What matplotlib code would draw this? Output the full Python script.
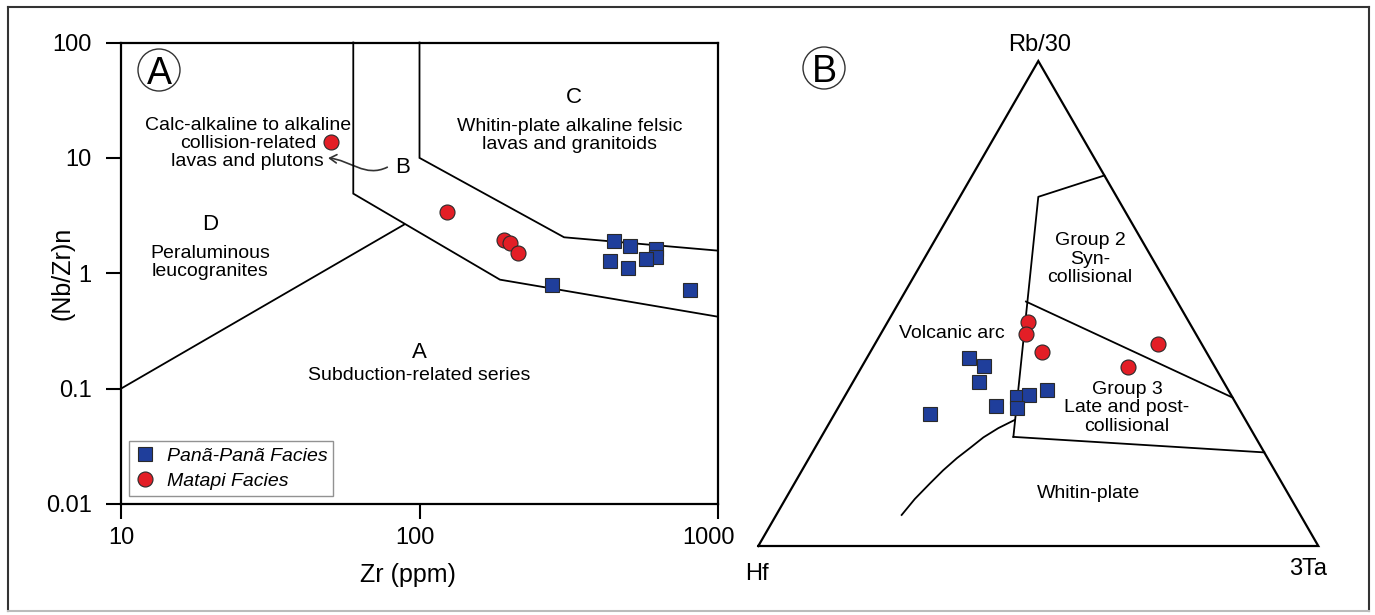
import numpy as np
import matplotlib
matplotlib.use('Agg')
import matplotlib.pyplot as plt
import matplotlib.transforms as mtransforms
from matplotlib.patches import Circle, FancyArrowPatch
from matplotlib.path import Path
from matplotlib.lines import Line2D

plt.rcParams['font.family'] = ['Liberation Sans', 'DejaVu Sans']

# --- Zr vs (Nb/Zr)n diagram ---
pana_zr = [448, 507, 620, 620, 574, 435, 499, 278, 806]
pana_nbzr = [1.90, 1.72, 1.62, 1.38, 1.33, 1.28, 1.11, 0.79, 0.715]
matapi_zr = [50.5, 124, 192, 201, 214]
matapi_nbzr = [13.7, 3.39, 1.94, 1.83, 1.50]

# field boundaries
bnd_b_lower_zr = [60, 60, 186, 1000]
bnd_b_lower_nb = [100, 4.9, 0.88, 0.42]
bnd_bc_zr = [100, 100, 305, 1000]
bnd_bc_nb = [100, 10, 2.05, 1.57]
bnd_da_zr = [10, 89]
bnd_da_nb = [0.1, 2.65]

# --- Rb/30 - Hf - 3Ta ternary (percent: Hf, Rb/30, 3Ta) ---
pana_hf = [43.0, 41.1, 43.7, 38.5, 36.2, 43.1, 39.5, 55.7, 32.3]
pana_rb = [38.8, 37.2, 33.9, 30.7, 31.1, 28.9, 28.5, 27.2, 32.2]
pana_ta = [18.2, 21.7, 22.4, 30.8, 32.7, 28.0, 32.0, 17.1, 35.5]
matapi_hf = [28.8, 30.4, 29.3, 7.7, 15.4]
matapi_rb = [46.2, 43.7, 40.1, 41.7, 37.0]
matapi_ta = [25.0, 25.9, 30.6, 50.6, 47.6]

syncol_hf = [0.0, 14.0, 43.2]
syncol_rb = [76.4, 72.0, 22.5]
syncol_ta = [23.6, 14.0, 34.3]
grp23_hf = [27.0, 0.0]
grp23_rb = [50.4, 30.6]
grp23_ta = [22.6, 69.4]
grp3_hf = [43.2, 0.0]
grp3_rb = [22.5, 19.3]
grp3_ta = [34.3, 80.7]
wpg_hf = [71.2, 67.2, 62.9, 59.2, 55.5, 52.1, 48.6, 45.0, 41.2]
wpg_rb = [6.4, 9.7, 12.9, 15.6, 18.1, 20.2, 22.4, 24.3, 26.0]
wpg_ta = [22.4, 23.1, 24.2, 25.2, 26.4, 27.7, 29.0, 30.7, 32.8]

BLUE = '#1f3e9b'
RED = '#e31e26'
EDGE = '#2a2a2a'


def tern(hf, rb, ta):
    hf, rb, ta = (np.asarray(v, dtype=float) for v in (hf, rb, ta))
    s = hf + rb + ta
    rb, ta = rb / s, ta / s
    return ta + rb / 2, rb * np.sqrt(3) / 2


W, H = 1375, 615
fig = plt.figure(figsize=(W / 100, H / 100), dpi=100)

# outer frame
for xs, ys, c in [((8, 1369), (7, 7), '#333333'), ((8, 8), (7, 611), '#333333'),
                  ((1369, 1369), (7, 611), '#333333'), ((8, 1369), (611, 611), '#bbbbbb')]:
    fig.add_artist(Line2D([x / W for x in xs], [1 - y / H for y in ys],
                          color=c, lw=1.5, transform=fig.transFigure))

# left panel
ax = fig.add_axes([121 / W, 1 - 504 / H, (718 - 121) / W, (504 - 42.5) / H])
ax.set_xscale('log')
ax.set_yscale('log')
ax.set_xlim(10, 1000)
ax.set_ylim(0.01, 100)
ax.set_xticks([10, 100, 1000])
ax.set_xticklabels(['10', '100', '1000'])
ax.set_yticks([0.01, 0.1, 1, 10, 100])
ax.set_yticklabels(['0.01', '0.1', '1', '10', '100'])
ax.minorticks_off()
ax.tick_params(direction='out', length=11, width=1.5, labelsize=17, colors='black')
ax.tick_params(axis='x', pad=5.5)
ax.tick_params(axis='y', pad=10)
for sp in ax.spines.values():
    sp.set_linewidth(1.6)

# the x tick labels sit a little left of their ticks
for lab, dx in zip(ax.get_xticklabels(), [0, -5, -9]):
    lab.set_transform(lab.get_transform() +
                      mtransforms.ScaledTranslation(dx / 100, 0, fig.dpi_scale_trans))

ax.set_xlabel('Zr (ppm)', fontsize=18, va='center')
ax.xaxis.set_label_coords((408 - 121) / 597, -(575 - 504) / 461.5)
ax.set_ylabel('(Nb/Zr)n', fontsize=18, va='center')
ax.yaxis.set_label_coords((63 - 121) / 597, 0.5)

for zx, ny in [(bnd_b_lower_zr, bnd_b_lower_nb), (bnd_bc_zr, bnd_bc_nb), (bnd_da_zr, bnd_da_nb)]:
    ax.plot(zx, ny, color='black', lw=1.3, solid_joinstyle='miter', clip_on=False)

ax.plot(pana_zr, pana_nbzr, ls='none', marker='s', ms=9.6, mfc=BLUE, mec=EDGE,
        mew=0.8, label='Panã-Panã Facies', zorder=3)
ax.plot(matapi_zr, matapi_nbzr, ls='none', marker='o', ms=10.8, mfc=RED, mec=EDGE,
        mew=0.8, label='Matapi Facies', zorder=3)

txt = dict(ha='center', va='center', fontsize=14, linespacing=1.1)
ax.text(26.6, 13.3, 'Calc-alkaline to alkaline\ncollision-related\nlavas and plutons', **txt)
ax.text(19.9, 2.67, 'D', ha='center', va='center', fontsize=16)
ax.text(19.9, 1.24, 'Peraluminous\nleucogranites', **txt)
ax.text(88.0, 8.3, 'B', ha='center', va='center', fontsize=16)
ax.text(329, 33.6, 'C', ha='center', va='center', fontsize=16)
ax.text(319, 15.6, 'Whitin-plate alkaline felsic\nlavas and granitoids', **txt)
ax.text(100, 0.2075, 'A', ha='center', va='center', fontsize=16)
ax.text(100, 0.131, 'Subduction-related series', **txt)

arrow_path = Path([(78, 8.3), (65.7, 6.7), (58.5, 9.6), (49.4, 9.96)],
                  [Path.MOVETO, Path.CURVE4, Path.CURVE4, Path.CURVE4])
ax.add_patch(FancyArrowPatch(path=arrow_path, arrowstyle='->,head_length=5,head_width=3',
                             color='#333333', lw=1.2, transform=ax.transData))

leg = ax.legend(loc='lower left', bbox_to_anchor=((129 - 121) / 597, (504 - 496) / 461.5),
                borderaxespad=0, fancybox=False, frameon=True,
                prop={'style': 'italic', 'size': 14}, borderpad=0.3, labelspacing=0.4,
                handlelength=1.0, handletextpad=0.65)
leg.get_frame().set_edgecolor('#777777')
leg.get_frame().set_linewidth(1.0)

# right panel: ternary
tx0, ty0, side = 758.3, 546, 560
ax2 = fig.add_axes([tx0 / W, 1 - ty0 / H, side / W, side * np.sqrt(3) / 2 / H])
ax2.set_xlim(0, 1)
ax2.set_ylim(0, np.sqrt(3) / 2)
ax2.axis('off')

ax2.plot([0, 1, 0.5, 0], [0, 0, np.sqrt(3) / 2, 0], color='black', lw=1.6,
         solid_joinstyle='miter', clip_on=False)
for hf, rb, ta in [(syncol_hf, syncol_rb, syncol_ta), (grp23_hf, grp23_rb, grp23_ta),
                   (grp3_hf, grp3_rb, grp3_ta), (wpg_hf, wpg_rb, wpg_ta)]:
    x, y = tern(hf, rb, ta)
    ax2.plot(x, y, color='black', lw=1.3, clip_on=False)

x, y = tern(pana_hf, pana_rb, pana_ta)
ax2.plot(x, y, ls='none', marker='s', ms=9.6, mfc=BLUE, mec=EDGE, mew=0.8, zorder=3, clip_on=False)
x, y = tern(matapi_hf, matapi_rb, matapi_ta)
ax2.plot(x, y, ls='none', marker='o', ms=10.8, mfc=RED, mec=EDGE, mew=0.8, zorder=3, clip_on=False)


def pix(px, py):
    return (px - tx0) / side, (ty0 - py) / side


ax2.text(*pix(952, 334), 'Volcanic arc', **txt)
ax2.text(*pix(1090, 259), 'Group 2\nSyn-\ncollisional', **txt)
ax2.text(*pix(1127, 408), 'Group 3\nLate and post-\ncollisional', **txt)
ax2.text(*pix(1089, 493), 'Whitin-plate', **txt)
ax2.text(*pix(1040, 45), 'Rb/30', ha='center', va='center', fontsize=17, clip_on=False)
ax2.text(*pix(757, 574), 'Hf', ha='center', va='center', fontsize=17, clip_on=False)
ax2.text(*pix(1308, 569), '3Ta', ha='center', va='center', fontsize=17, clip_on=False)

# panel letters
for cx, cy, letter in [(159, 70, 'A'), (824, 68, 'B')]:
    fig.add_artist(Circle((cx / 100, (H - cy) / 100), 0.21, transform=fig.dpi_scale_trans,
                          fill=False, ec='#333333', lw=1.0))
    fig.text(cx / W, 1 - cy / H, letter, ha='center', va='center_baseline', fontsize=27)

fig.savefig('out.png', dpi=100)
